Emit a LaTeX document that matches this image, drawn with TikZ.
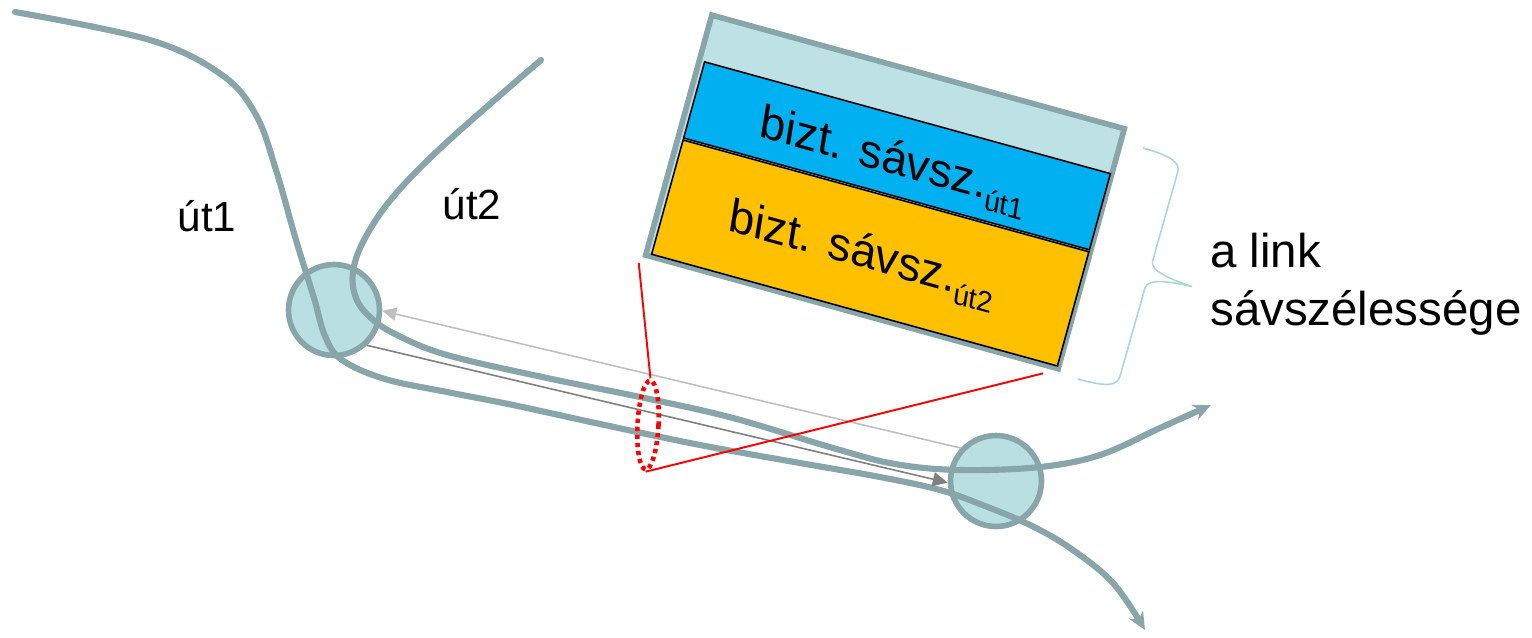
\documentclass[tikz,border=0pt]{standalone}
\usepackage{fontspec}
\setmainfont{Liberation Sans}
\usetikzlibrary{arrows.meta,shapes.geometric}

\definecolor{route}{HTML}{88A6A9}
\definecolor{nodefill}{HTML}{B9DFE3}
\definecolor{boxfill}{HTML}{BDE1E4}
\definecolor{bandblue}{HTML}{00B0F0}
\definecolor{bandorange}{HTML}{FFC000}
\definecolor{bracecol}{HTML}{A9D6DB}
\definecolor{fwdgray}{HTML}{7F7F7F}
\definecolor{backgray}{HTML}{BFBFBF}

\begin{document}
\begin{tikzpicture}[x=0.02cm,y=-0.02cm,
  router/.style={circle, draw=route, fill=nodefill, line width=3.2pt,
    minimum size=1.82cm, inner sep=0pt},
  routeline/.style={draw=route, line width=3.5pt, line cap=round,
    -{Stealth[length=10pt,width=9pt,inset=3pt]}},
  fwdarrow/.style={draw=fwdgray, line width=0.9pt, -{Triangle[length=8.5pt,width=8pt]}},
  backarrow/.style={draw=backgray, line width=0.9pt, -{Triangle[length=8pt,width=7.5pt]}},
  band/.style={draw=black, line width=0.9pt, inner sep=0pt, minimum width=8.42cm, transform shape},
  bandtext/.style={anchor=base, inner sep=0pt, transform shape, xslant=-0.11,
    font=\fontsize{26.5}{30}\selectfont},
  label/.style={anchor=base, inner sep=0pt, font=\fontsize{24}{28}\selectfont},
  zoomline/.style={draw=red, line width=1.1pt},
  bracket/.style={draw=bracecol, line width=0.9pt}
]
\useasboundingbox (0,0) rectangle (1532,637);

% routers
\node[router] (n1) at (334,310) {};
\node[router] (n2) at (996,481) {};

% the two routes
\draw[routeline] plot[smooth, tension=0.6] coordinates {
  (15,12) (150,40) (222,75) (256,115) (276,170) (296,240)
  (314,298) (325,336) (342,360) (385,379) (447,392) (513,405) (600,424)
  (700,445) (800,463) (880,477) (940,490) (985,506) (1030,525) (1070,548)
  (1113,583) (1145,630)};
\draw[routeline] plot[smooth, tension=0.6] coordinates {
  (541,60) (446,143) (393,197) (364,240) (353,272) (356,298) (370,317)
  (395,334) (447,355) (547,378) (640,397) (733,418) (833,448)
  (895,464) (960,470) (1040,467) (1100,455)
  (1160,428) (1211,405)};

\node[label] (u1) at (207,231) {út1};
\node[label] (u2) at (472,219) {út2};

% reservation arrows between the routers
\draw[fwdarrow] (n1.-47) -- (n2.182);
\draw[backarrow] (n2.137) -- (n1.-1);

% cut of the link
\node[ellipse, draw=red, line width=2.6pt, dash pattern=on 2.4pt off 2.2pt,
  minimum width=0.42cm, minimum height=1.78cm, inner sep=0pt, rotate=-3]
  (cut) at (648,425) {};

% link capacity box
\begin{scope}[shift={(710,12)}, rotate=-15.4]
  \node[draw=route, fill=boxfill, line width=3.2pt, inner sep=0pt,
    minimum width=8.56cm, minimum height=4.98cm, transform shape]
    (link) at (216.5,127) {};
  \node[band, fill=bandblue, minimum height=1.58cm] (b1) at (218.5,89) {};
  \node[band, fill=bandorange, minimum height=2.37cm] (b2) at (218.5,189.8) {};
  \node[bandtext] (t1) at (217.5,107.5)
    {bizt. sávsz.\raisebox{-6pt}{\fontsize{16.5}{19}\selectfont út1}};
  \node[bandtext] (t2) at (212.5,206)
    {bizt. sávsz.\raisebox{-6pt}{\fontsize{16.5}{19}\selectfont út2}};
  \coordinate (zl) at (-2,261);
  \coordinate (zr) at (417,260);
\end{scope}

\draw[zoomline] (cut.north) -- (zl);
\draw[zoomline] (cut.south) -- (zr);

% brace with its caption
\begin{scope}[shift={(1143,148)}, rotate=-15.8]
  \draw[bracket] (0,0) .. controls (30,0) and (40,4) .. (40,14) -- (40,106)
    .. controls (40,116) and (62,119) .. (85,120)
    .. controls (62,121) and (40,124) .. (40,134) -- (40,226)
    .. controls (40,236) and (30,240) .. (0,240);
\end{scope}
\node[anchor=north west, inner sep=0pt, align=left,
  font=\fontsize{27}{33}\selectfont] (cap) at (1210,233)
  {a link\\sávszélessége};

\end{tikzpicture}
\end{document}
